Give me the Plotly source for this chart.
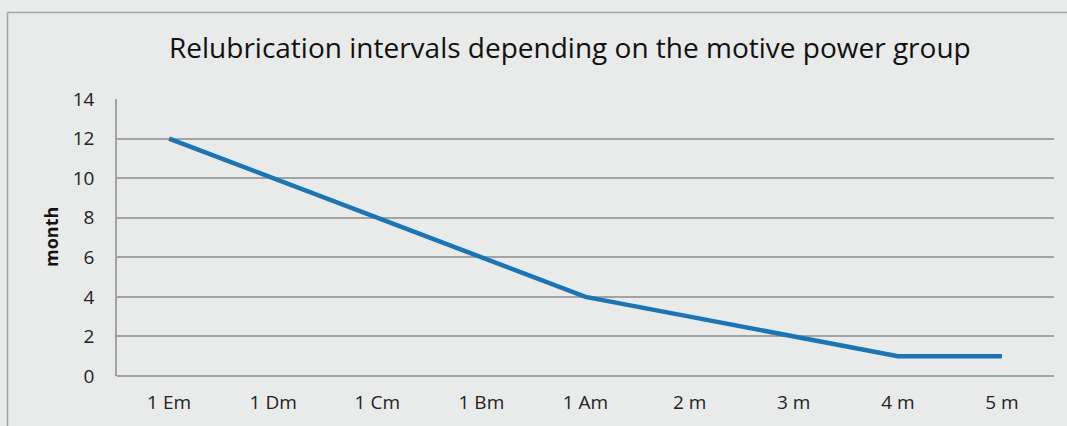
import plotly.graph_objects as go

categories = ["1 Em", "1 Dm", "1 Cm", "1 Bm", "1 Am", "2 m", "3 m", "4 m", "5 m"]
months = [12, 10, 8, 6, 4, 3, 2, 1, 1]
y_ticks = [0, 2, 4, 6, 8, 10, 12, 14]

W, H = 1067, 426
# plot area in page pixels: left 117, top 99, right 1054, bottom 376
L, T = 117, 99
R = W - 1054
B = H - 376
pw, ph = W - L - R, H - T - B

def px_x(p):
    return (p - L) / pw

def px_y(p):
    return (H - B - p) / ph

FONT = "Open Sans"
GRID = "#a3a3a3"
BG = "#e9eaea"

fig = go.Figure()
fig.add_trace(go.Scatter(
    x=categories, y=months, mode="lines",
    line=dict(color="#1b74b4", width=4.5),
    hoverinfo="x+y",
))

fig.update_layout(
    width=W, height=H,
    margin=dict(l=L, r=R, t=T, b=B),
    paper_bgcolor=BG, plot_bgcolor=BG,
    showlegend=False,
    font=dict(family=FONT, color="#222222"),
    xaxis=dict(
        type="category", range=[-0.5, 8.5],
        showgrid=False, showline=False, zeroline=False,
        ticks="outside", ticklen=9, tickcolor="rgba(0,0,0,0)",
        tickfont=dict(size=19, family=FONT, color="#222222"),
    ),
    yaxis=dict(
        range=[0, 14], tickvals=y_ticks,
        showgrid=True, gridcolor=GRID, gridwidth=1.5,
        zeroline=True, zerolinecolor=GRID, zerolinewidth=1.5,
        showline=True, linecolor=GRID, linewidth=1.5,
        ticks="outside", ticklen=17, tickcolor="rgba(0,0,0,0)",
        tickfont=dict(size=19, family=FONT, color="#222222"),
    ),
    shapes=[
        dict(type="line", xref="paper", yref="paper",
             x0=px_x(7.5), x1=px_x(W + 20), y0=px_y(12.5), y1=px_y(12.5),
             line=dict(color=GRID, width=1.5)),
        dict(type="line", xref="paper", yref="paper",
             x0=px_x(7.5), x1=px_x(7.5), y0=px_y(12.5), y1=px_y(H + 20),
             line=dict(color=GRID, width=1.5)),
    ],
    annotations=[
        dict(text="Relubrication intervals depending on the motive power group",
             xref="paper", yref="paper", x=px_x(570), y=px_y(47),
             xanchor="center", yanchor="middle", showarrow=False,
             font=dict(size=28, family=FONT, color="#111111")),
        dict(text="<b>month</b>", xref="paper", yref="paper",
             x=px_x(51), y=px_y(237), textangle=-90,
             xanchor="center", yanchor="middle", showarrow=False,
             font=dict(size=18, family=FONT, color="#111111")),
    ],
)

fig.write_html(
    "out.html",
    config={"displayModeBar": False},
    post_script="document.body.style.margin='0';document.body.style.background='#e9eaea';",
)
